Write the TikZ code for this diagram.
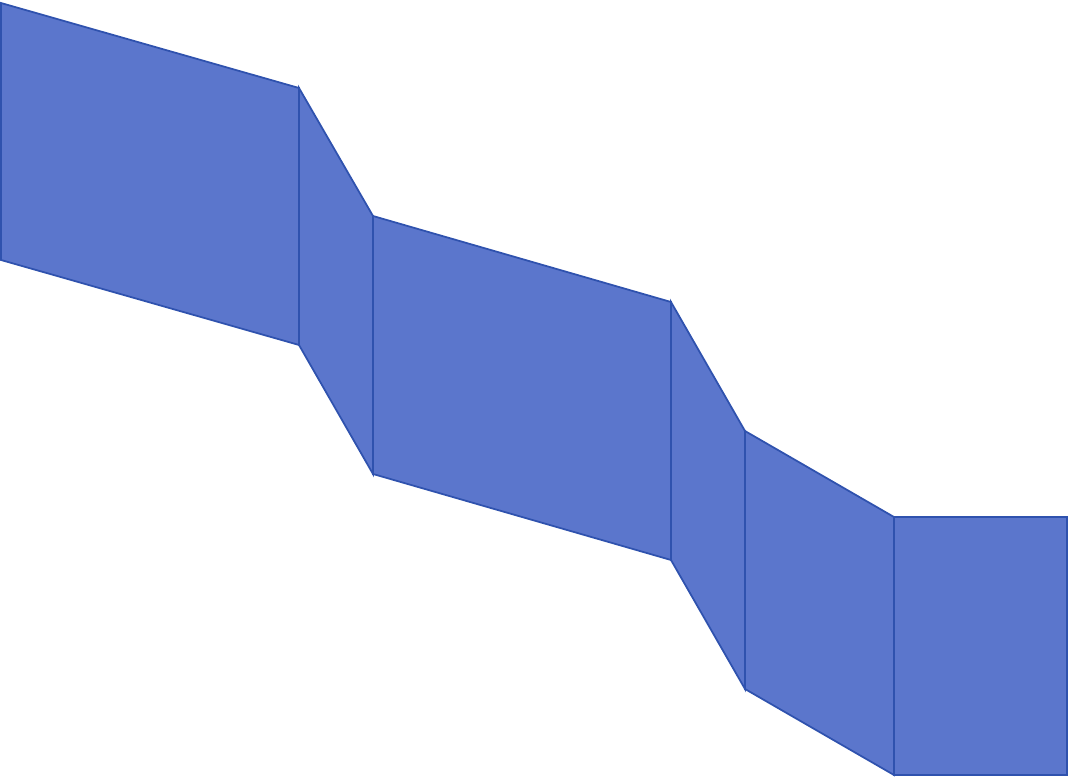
\documentclass[tikz,border=0pt]{standalone}
\usepackage{tikz}
\definecolor{panelfill}{HTML}{5B76CC}
\definecolor{paneledge}{HTML}{2F52AE}
\tikzset{
  panel/.style={draw=paneledge, fill=panelfill, line width=1pt, line join=miter},
}
% four corners of each strip panel, in pixels (top left, top right, bottom right, bottom left)
\def\panellist{%
  1/3/299/88/299/345/1/260,
  299/88/373/216/373/474/299/345,
  373/216/671/302/671/560/373/474,
  671/302/745/431/745/689/671/560,
  745/431/894/517/894/775/745/689,
  894/517/1067/517/1067/775/894/775}

\begin{document}
\begin{tikzpicture}[x=0.02cm,y=-0.02cm]
\useasboundingbox (0,0) rectangle (1069,777);
% --- the folded strip, panel by panel ---
\foreach \ax/\ay/\bx/\by/\cx/\cy/\dx/\dy in \panellist
  {\draw[panel] (\ax,\ay) -- (\bx,\by) -- (\cx,\cy) -- (\dx,\dy) -- cycle;}
\end{tikzpicture}
\end{document}
